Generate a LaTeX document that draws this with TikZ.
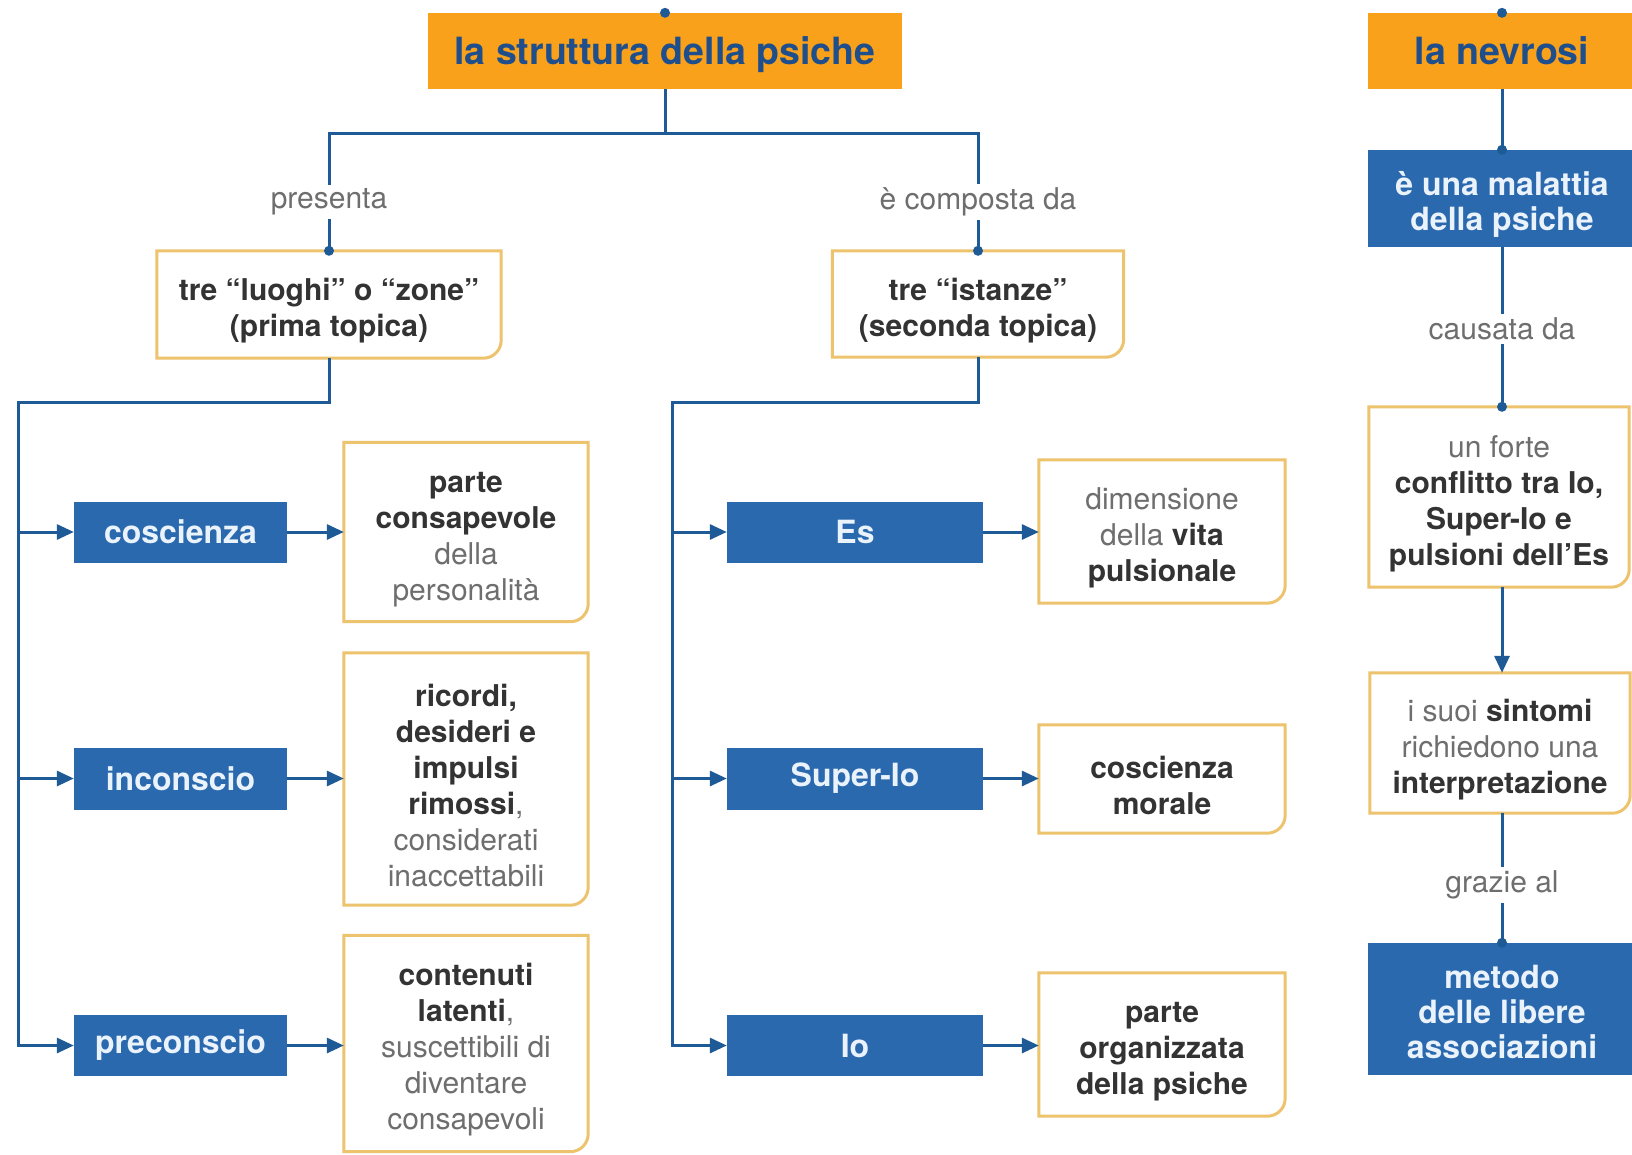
\documentclass[tikz,border=0pt]{standalone}
\usepackage{fontspec}
\setmainfont{TeX Gyre Heros}
\usetikzlibrary{arrows.meta}
\definecolor{orfill}{HTML}{F9A11B}
\definecolor{hdrtext}{HTML}{1E4F8C}
\definecolor{bluebox}{HTML}{2A69AE}
\definecolor{bluetext}{HTML}{EAF2FB}
\definecolor{lineblue}{HTML}{1E5A96}
\definecolor{oborder}{HTML}{EEC36E}
\definecolor{darktext}{HTML}{333333}
\definecolor{graytext}{HTML}{6E6E6E}
\newcommand\bk[1]{\textbf{\color{darktext}#1}}
\newcommand\topst{\rule{0pt}{35pt}}
\newcommand\oframe[1]{\draw[obord] (#1.north west) -- (#1.north east) -- ([yshift=18pt]#1.south east) .. controls ([yshift=8pt]#1.south east) and ([xshift=-8pt]#1.south east) .. ([xshift=-18pt]#1.south east) -- (#1.south west) -- cycle;}
\tikzset{
  hdr/.style={fill=orfill, text=hdrtext, font=\fontsize{37.5}{44}\selectfont\bfseries, inner sep=0pt, text depth=0pt},
  bbox/.style={fill=bluebox, text=bluetext, font=\fontsize{32}{35}\selectfont\bfseries, align=center, inner sep=0pt},
  wbox/.style={fill=white, text=graytext, font=\fontsize{30}{36}\selectfont, align=center, inner sep=0pt},
  lbl/.style={fill=white, text=graytext, font=\fontsize{30}{36}\selectfont, inner sep=4pt},
  conn/.style={draw=lineblue, line width=3pt},
  arr/.style={conn, -{Triangle[length=17pt,width=15pt]}},
  dotn/.style={fill=lineblue, circle, inner sep=0pt, minimum size=10pt},
  obord/.style={draw=oborder, line width=3pt},
}
\begin{document}
\begin{tikzpicture}[x=1pt,y=-1pt]
\useasboundingbox (0,0) rectangle (1632,1154);
\fill[white] (0,0) rectangle (1632,1154);
\clip (0,0) rectangle (1632,1154);

% headers
\node[hdr, minimum width=474pt, minimum height=76pt] (h1) at (665,51) {la struttura della psiche};
\node[hdr, minimum width=268pt, minimum height=76pt] (h2) at (1502,51) {la nevrosi};

% second level
\node[wbox, minimum width=344pt, minimum height=107pt] (luoghi) at (329,304.5) {\topst\bk{tre “luoghi” o “zone”}\\\bk{(prima topica)}};
\node[wbox, minimum width=291pt, minimum height=106pt] (istanze) at (978,304) {\topst\bk{tre “istanze”}\\\bk{(seconda topica)}};

% left column blue boxes
\node[bbox, minimum width=213pt, minimum height=61pt] (cosc) at (180.5,532) {coscienza};
\node[bbox, minimum width=213pt, minimum height=62pt] (incon) at (180.5,778.5) {inconscio};
\node[bbox, minimum width=213pt, minimum height=61pt] (precon) at (180.5,1045.5) {preconscio};

% left description boxes
\node[wbox, minimum width=244pt, minimum height=179pt] (dcosc) at (466,532) {\topst\bk{parte}\\\bk{consapevole}\\della\\personalità};
\node[wbox, minimum width=244pt, minimum height=252pt] (dincon) at (466,779) {\topst\bk{ricordi,}\\\bk{desideri e}\\\bk{impulsi}\\\bk{rimossi},\\considerati\\inaccettabili};
\node[wbox, minimum width=244pt, minimum height=216pt] (dprecon) at (466,1043.5) {\topst\bk{contenuti}\\\bk{latenti},\\suscettibili di\\diventare\\consapevoli};

% middle column blue boxes
\node[bbox, minimum width=256pt, minimum height=61pt] (es) at (855,532) {Es};
\node[bbox, minimum width=256pt, minimum height=62pt] (super) at (855,778.5) {Super-Io};
\node[bbox, minimum width=256pt, minimum height=61pt] (io) at (855,1045.5) {Io};

% middle description boxes
\node[wbox, minimum width=246pt, minimum height=143pt] (des) at (1162,531.5) {\topst dimensione\\della \bk{vita}\\\bk{pulsionale}};
\node[wbox, minimum width=246pt, minimum height=108pt] (dsuper) at (1162,779) {\topst\bk{coscienza}\\\bk{morale}};
\node[wbox, minimum width=246pt, minimum height=143pt] (dio) at (1162,1044.5) {\topst\bk{parte}\\\bk{organizzata}\\\bk{della psiche}};

% right column
\node[bbox, minimum width=268pt, minimum height=97pt] (mal) at (1502,198.5) {\topst è una malattia\\della psiche};
\node[wbox, minimum width=260pt, minimum height=180pt] (forte) at (1499,497) {\topst un forte\\\bk{conflitto tra Io,}\\\bk{Super-Io e}\\\bk{pulsioni dell’Es}};
\node[wbox, minimum width=260pt, minimum height=140pt] (suoi) at (1500,743) {\topst i suoi \bk{sintomi}\\richiedono una\\\bk{interpretazione}};
\node[bbox, minimum width=268pt, minimum height=132pt] (metodo) at (1502,1009) {\rule{0pt}{29pt}metodo\\delle libere\\associazioni};

% frames
\oframe{luoghi}
\oframe{istanze}
\oframe{dcosc}
\oframe{dincon}
\oframe{dprecon}
\oframe{des}
\oframe{dsuper}
\oframe{dio}
\oframe{forte}
\oframe{suoi}

% connectors top
\coordinate (j1) at (665,133);
\coordinate (tl) at (18,402);
\coordinate (tm) at (672,402);
\draw[conn] (h1.south) -- (j1);
\draw[conn] (luoghi.north) |- (j1) -| (istanze.north);

% left trunk
\draw[arr] (luoghi.south) |- (tl) |- (precon.west);
\draw[arr] (cosc.west -| tl) -- (cosc.west);
\draw[arr] (incon.west -| tl) -- (incon.west);
\draw[arr] (cosc.east) -- (cosc.east -| dcosc.west);
\draw[arr] (incon.east) -- (incon.east -| dincon.west);
\draw[arr] (precon.east) -- (precon.east -| dprecon.west);

% middle trunk
\draw[arr] (istanze.south) |- (tm) |- (io.west);
\draw[arr] (es.west -| tm) -- (es.west);
\draw[arr] (super.west -| tm) -- (super.west);
\draw[arr] (es.east) -- (es.east -| des.west);
\draw[arr] (super.east) -- (super.east -| dsuper.west);
\draw[arr] (io.east) -- (io.east -| dio.west);

% right column connectors
\draw[conn] (h2.south) -- (mal.north);
\draw[conn] (mal.south) -- (mal.south |- forte.north);
\draw[arr] (mal.south |- forte.south) -- (mal.south |- suoi.north);
\draw[conn] (mal.south |- suoi.south) -- (metodo.north);

% labels
\node[lbl] (lpres) at (329,202) {presenta};
\node[lbl] (lcomp) at (978,202) {è composta da};
\node[lbl] (lcaus) at (1502,329) {causata da};
\node[lbl] (lgraz) at (1502,885) {grazie al};

% dots
\node[dotn] (dt1) at (h1.north) {};
\node[dotn] (dt2) at (h2.north) {};
\node[dotn] (dt3) at (luoghi.north) {};
\node[dotn] (dt4) at (istanze.north) {};
\node[dotn] (dt5) at (mal.north) {};
\node[dotn] (dt6) at (mal.south |- forte.north) {};
\node[dotn] (dt7) at (metodo.north) {};
\end{tikzpicture}
\end{document}
